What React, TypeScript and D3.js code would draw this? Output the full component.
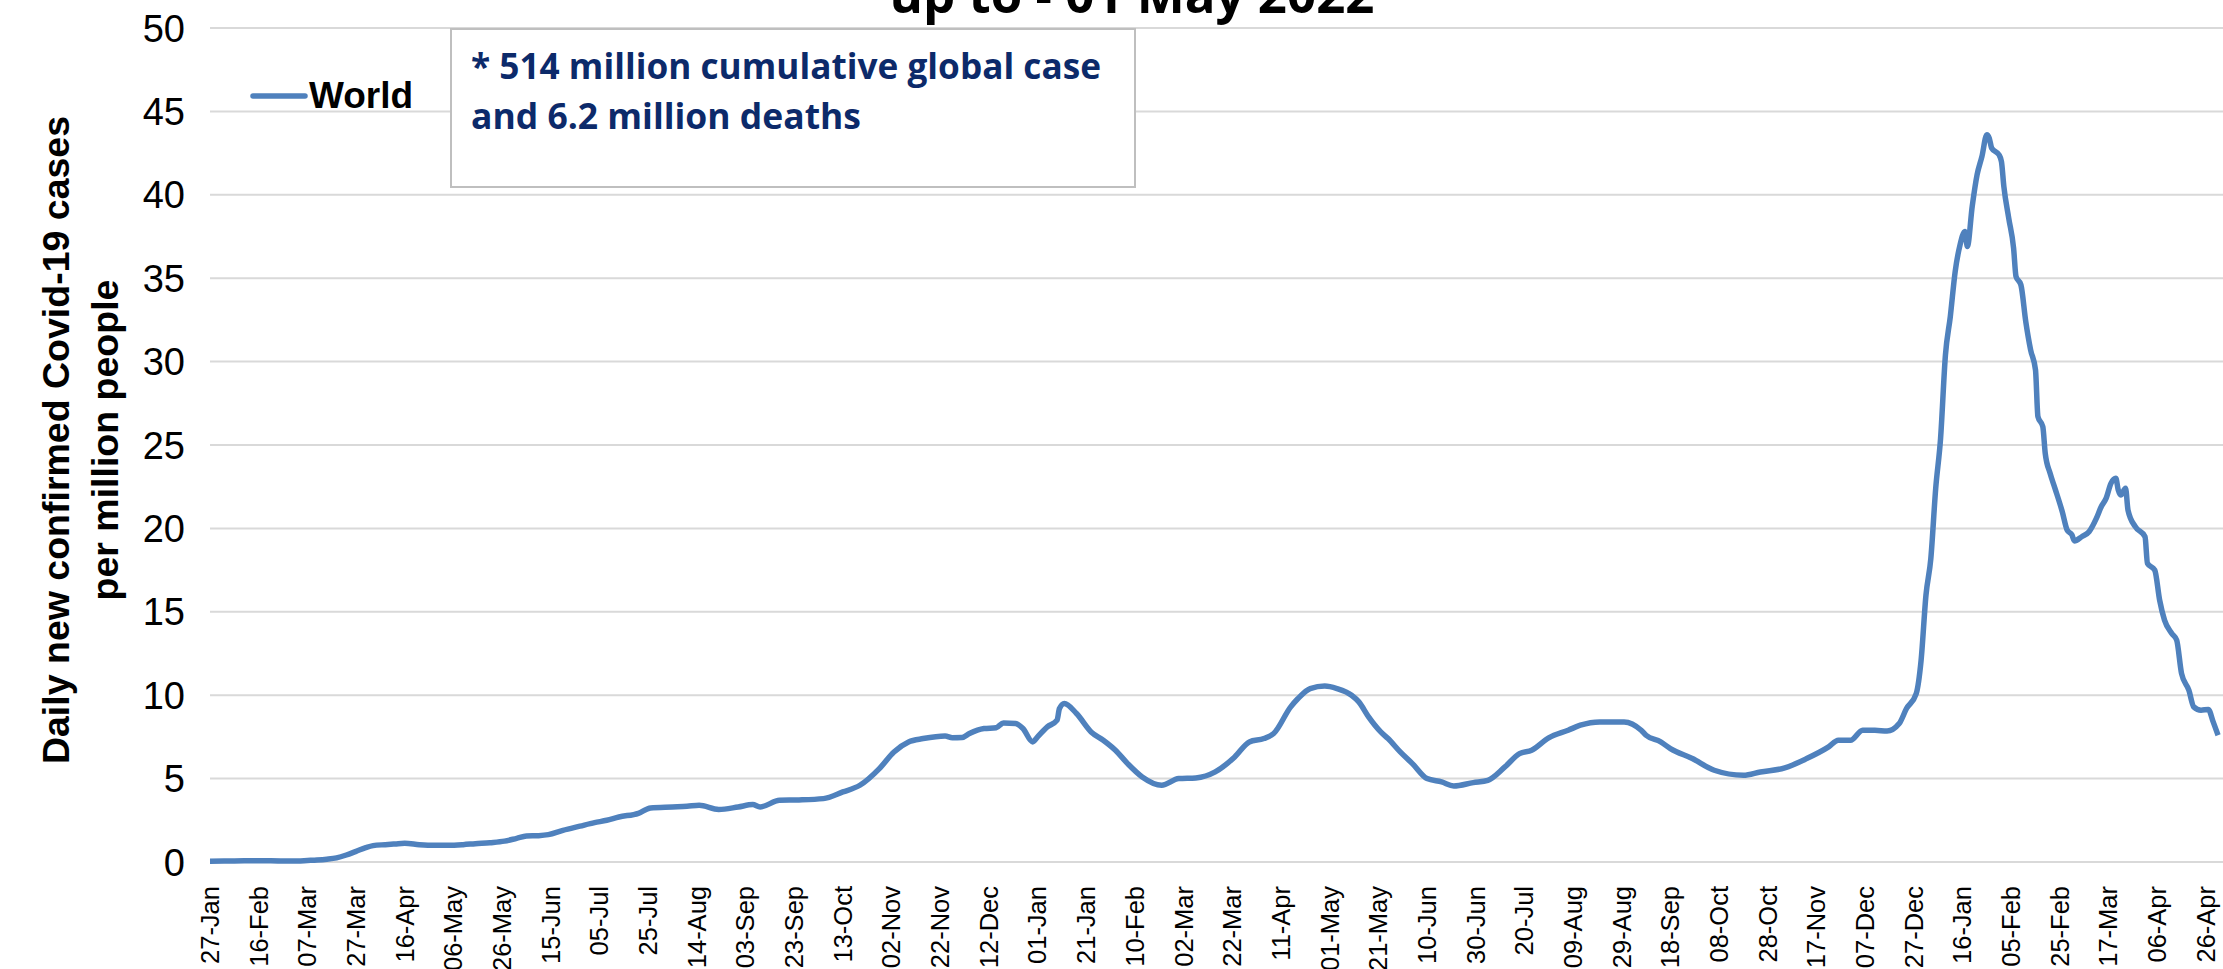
import React from "react";
import * as d3 from "d3";

const W = 2223;
const H = 969;

const dates: string[] = [
  "2020-01-27","2020-02-06","2020-02-16","2020-02-26","2020-03-03","2020-03-07","2020-03-11","2020-03-15","2020-03-19","2020-03-23",
  "2020-03-27","2020-03-31","2020-04-03","2020-04-08","2020-04-12","2020-04-16","2020-04-22","2020-04-28","2020-05-04","2020-05-10",
  "2020-05-15","2020-05-21","2020-05-27","2020-06-01","2020-06-05","2020-06-10","2020-06-14","2020-06-20","2020-06-27","2020-07-03",
  "2020-07-08","2020-07-13","2020-07-21","2020-07-26","2020-08-04","2020-08-10","2020-08-15","2020-08-23","2020-08-31","2020-09-06",
  "2020-09-09","2020-09-17","2020-09-25","2020-10-05","2020-10-13","2020-10-20","2020-10-28","2020-11-03","2020-11-09","2020-11-15",
  "2020-11-24","2020-11-27","2020-12-01","2020-12-04","2020-12-10","2020-12-15","2020-12-18","2020-12-23","2020-12-26","2020-12-30",
  "2021-01-01","2021-01-05","2021-01-09","2021-01-10","2021-01-12","2021-01-17","2021-01-23","2021-01-28","2021-02-02","2021-02-07",
  "2021-02-13","2021-02-21","2021-02-28","2021-03-07","2021-03-15","2021-03-23","2021-03-29","2021-04-04","2021-04-08","2021-04-15",
  "2021-04-18","2021-04-23","2021-04-29","2021-05-04","2021-05-10","2021-05-13","2021-05-17","2021-05-22","2021-05-25","2021-05-30",
  "2021-06-04","2021-06-10","2021-06-16","2021-06-21","2021-06-29","2021-07-05","2021-07-12","2021-07-18","2021-07-23","2021-07-30",
  "2021-08-07","2021-08-12","2021-08-20","2021-08-30","2021-09-06","2021-09-08","2021-09-14","2021-09-18","2021-09-27","2021-10-06",
  "2021-10-18","2021-10-25","2021-11-04","2021-11-13","2021-11-22","2021-11-26","2021-12-01","2021-12-06","2021-12-11","2021-12-16",
  "2021-12-21","2021-12-24","2021-12-28","2021-12-30","2022-01-01","2022-01-03","2022-01-05","2022-01-07","2022-01-09","2022-01-11",
  "2022-01-13","2022-01-15","2022-01-17","2022-01-18","2022-01-20","2022-01-22","2022-01-24","2022-01-26","2022-01-27","2022-01-28",
  "2022-01-31","2022-02-01","2022-02-02","2022-02-04","2022-02-06","2022-02-07","2022-02-09","2022-02-11","2022-02-13","2022-02-15",
  "2022-02-16","2022-02-18","2022-02-19","2022-02-21","2022-02-23","2022-02-26","2022-02-28","2022-03-02","2022-03-03","2022-03-06",
  "2022-03-09","2022-03-12","2022-03-14","2022-03-16","2022-03-18","2022-03-20","2022-03-21","2022-03-22","2022-03-24","2022-03-25",
  "2022-03-28","2022-04-01","2022-04-02","2022-04-05","2022-04-07","2022-04-09","2022-04-12","2022-04-14","2022-04-16","2022-04-19",
  "2022-04-21","2022-04-24","2022-04-27","2022-04-29","2022-05-01",
];

const worldValues: number[] = [
  0.05,0.06,0.08,0.06,0.06,0.09,0.12,0.17,0.25,0.42,
  0.64,0.86,0.98,1.04,1.08,1.12,1.04,1.0,1.0,1.04,
  1.1,1.16,1.25,1.42,1.56,1.58,1.64,1.9,2.15,2.36,
  2.5,2.7,2.92,3.24,3.3,3.34,3.4,3.15,3.3,3.44,
  3.3,3.7,3.72,3.8,4.2,4.6,5.6,6.6,7.2,7.4,
  7.56,7.45,7.46,7.7,8.0,8.05,8.34,8.3,8.0,7.2,
  7.5,8.1,8.5,9.2,9.5,8.9,7.8,7.3,6.7,5.9,
  5.1,4.6,5.0,5.04,5.4,6.3,7.2,7.4,7.7,9.3,
  9.8,10.4,10.55,10.4,10.0,9.6,8.7,7.8,7.4,6.6,
  5.9,5.0,4.8,4.56,4.76,4.9,5.7,6.5,6.7,7.44,
  7.9,8.2,8.4,8.4,7.9,7.6,7.2,6.8,6.2,5.5,
  5.2,5.4,5.64,6.2,6.9,7.3,7.3,7.9,7.9,7.85,
  8.3,9.2,10.1,12.1,16.0,18.2,22.4,25.4,30.4,32.7,
  35.4,37.0,37.8,36.9,39.3,41.2,42.3,43.6,43.4,42.8,
  42.4,42.0,40.5,38.6,36.8,35.1,34.6,32.4,30.7,29.5,
  26.7,26.1,24.5,23.3,22.4,21.0,19.9,19.6,19.25,19.5,
  19.8,20.6,21.3,21.8,22.7,23.0,22.3,22.0,22.4,21.1,
  20.1,19.5,17.9,17.5,15.7,14.5,13.7,13.3,11.3,10.3,
  9.3,9.1,9.15,8.4,7.6,
];

const yTicks: number[] = [0, 5, 10, 15, 20, 25, 30, 35, 40, 45, 50];
const xTickStart = "2020-01-27";
const xTickStepDays = 20;
const xTickCount = 42;

const seriesName = "World";
const titleText = "up to - 01 May 2022";
const noteLines: string[] = ["* 514 million cumulative global case", "and 6.2 million deaths"];
const yTitleLines: string[] = ["Daily new confirmed Covid-19 cases", "per million people"];

const parse = d3.utcParse("%Y-%m-%d");
const fmt = d3.utcFormat("%d-%b");

export default function App() {
  const data = dates.map((d, i) => ({ date: parse(d) as Date, value: worldValues[i] }));
  const x0 = 210;
  const pxPerDay = 2.434;
  const start = parse(xTickStart) as Date;
  const end = parse("2022-05-01") as Date;
  const days = d3.utcDay.count(start, end);
  const x = d3.scaleUtc().domain([start, end]).range([x0, x0 + days * pxPerDay]);
  const y = d3.scaleLinear().domain([0, 50]).range([862, 28]);
  const line = d3
    .line<{ date: Date; value: number }>()
    .x((d) => x(d.date))
    .y((d) => y(d.value))
    .curve(d3.curveMonotoneX);
  const tickDates = d3.range(xTickCount).map((i) => d3.utcDay.offset(start, i * xTickStepDays));

  const blue = "#4f81bd";
  const grid = "#d9d9d9";
  const navy = "#0c2a6a";

  return (
    <svg
      width={W}
      height={H}
      style={{ position: "absolute", left: 0, top: 0, background: "#fff" }}
      fontFamily="'Liberation Sans', Arial, sans-serif"
    >
      <rect x={0} y={0} width={W} height={H} fill="#fff" />
      {/* title (partially cut off) */}
      <text
        x={1132}
        y={13}
        textAnchor="middle"
        fontFamily="'Open Sans', sans-serif"
        fontWeight="bold"
        fontSize={50}
        textLength={485}
        lengthAdjust="spacingAndGlyphs"
        fill="#000"
      >
        {titleText}
      </text>
      {/* gridlines */}
      {yTicks.map((t) => (
        <line key={t} x1={x0} x2={W} y1={y(t)} y2={y(t)} stroke={grid} strokeWidth={2} />
      ))}
      {/* y tick labels */}
      {yTicks.map((t) => (
        <text key={"l" + t} x={185} y={y(t)} dy="0.36em" textAnchor="end" fontSize={38} fill="#000">
          {t}
        </text>
      ))}
      {/* x tick labels */}
      {tickDates.map((d, i) => (
        <text
          key={"x" + i}
          transform={`translate(${x(d)},886) rotate(-90)`}
          dy="0.35em"
          textAnchor="end"
          fontSize={25.5}
          fill="#000"
        >
          {fmt(d)}
        </text>
      ))}
      {/* y axis title */}
      {yTitleLines.map((s, i) => (
        <text
          key={"yt" + i}
          transform={`translate(${69 + i * 49},440) rotate(-90)`}
          textAnchor="middle"
          fontWeight="bold"
          fontSize={37.5}
          fill="#000"
        >
          {s}
        </text>
      ))}
      {/* series line */}
      <path d={line(data) || ""} fill="none" stroke={blue} strokeWidth={5.5} strokeLinejoin="round" />
      {/* legend */}
      <line x1={253} x2={305} y1={96} y2={96} stroke={blue} strokeWidth={5.5} strokeLinecap="round" />
      <text x={309} y={108} fontWeight="bold" fontSize={37} fill="#000">
        {seriesName}
      </text>
      {/* note box */}
      <rect x={451} y={29} width={684} height={158} fill="#fff" stroke="#bfbfbf" strokeWidth={2} />
      {noteLines.map((s, i) => (
        <text
          key={"n" + i}
          x={471}
          y={79 + i * 50}
          fontFamily="'Open Sans', sans-serif"
          fontWeight="bold"
          fontSize={36}
          fill={navy}
          textLength={i === 0 ? 630 : 390}
          lengthAdjust="spacingAndGlyphs"
        >
          {s}
        </text>
      ))}
    </svg>
  );
}
